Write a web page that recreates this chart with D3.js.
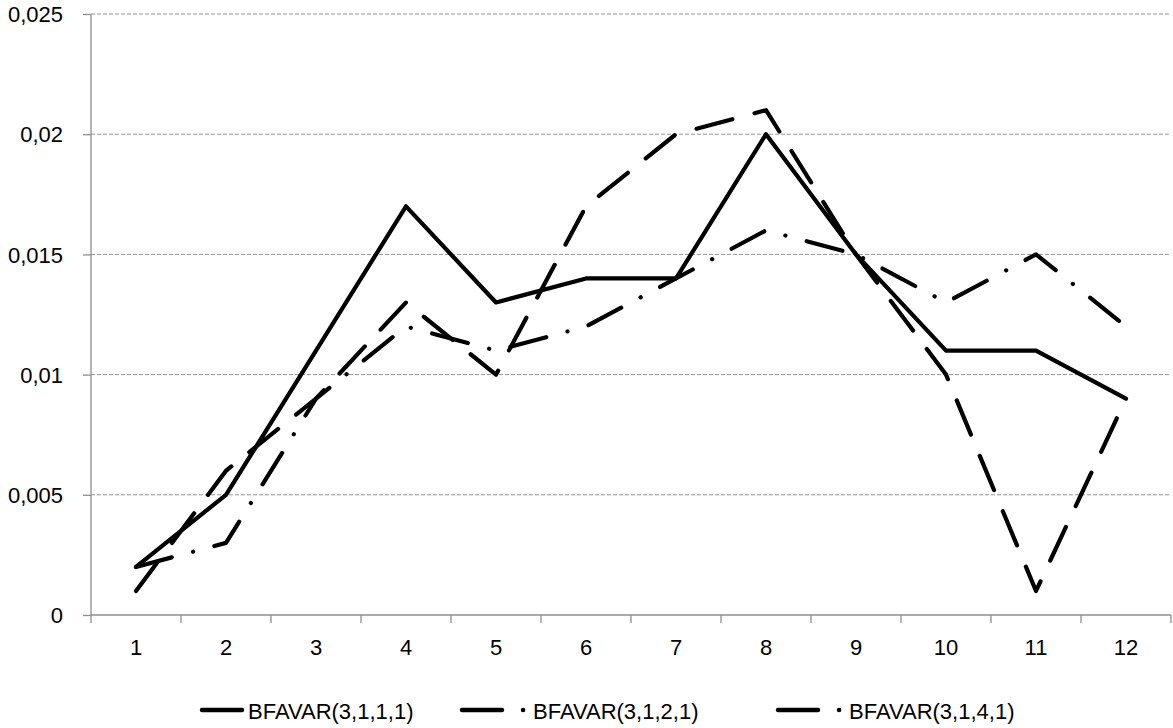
<!DOCTYPE html>
<html><head><meta charset="utf-8">
<script src="https://cdn.jsdelivr.net/npm/d3@7"></script>
<style>body{margin:0;background:#fff}svg{display:block}text{font-family:"Liberation Sans",Arial,sans-serif;fill:#000}</style>
</head><body>
<svg id="c" width="1173" height="728"></svg>
<script>
const categories = ["1","2","3","4","5","6","7","8","9","10","11","12"];
const seriesNames = ["BFAVAR(3,1,1,1)","BFAVAR(3,1,2,1)","BFAVAR(3,1,4,1)"];
const s1 = [0.002,0.005,0.011,0.017,0.013,0.014,0.014,0.020,0.015,0.011,0.011,0.009];
const s2 = [0.001,0.006,0.009,0.013,0.010,0.017,0.020,0.021,0.015,0.010,0.001,0.009];
const s3 = [0.002,0.003,0.009,0.012,0.011,0.012,0.014,0.016,0.015,0.013,0.015,0.012];
const yTicks = [0,0.005,0.01,0.015,0.02,0.025];
const yTickLabels = ["0","0,005","0,01","0,015","0,02","0,025"];

const series = [
  {name: seriesNames[0], values: s1, dash: null},
  {name: seriesNames[1], values: s2, dash: "37,23"},
  {name: seriesNames[2], values: s3, dash: "37,22,0.1,22"}
];

const svg = d3.select("#c");
const L = 91, R = 1171, T = 14, B = 615;
const x = d3.scaleBand().domain(categories).range([L, R]);
const y = d3.scaleLinear().domain([0, 0.025]).range([B, T]);
const axisColor = "#8e8e8e";

// gridlines
svg.append("g").selectAll("line").data(yTicks.slice(1)).join("line")
  .attr("x1", L).attr("x2", R)
  .attr("y1", d => y(d)).attr("y2", d => y(d))
  .attr("stroke", "#969696").attr("stroke-width", 1).attr("stroke-dasharray", "4,2");

// y axis
const yAxis = d3.axisLeft(y).tickValues(yTicks).tickSize(8)
  .tickFormat((d, i) => yTickLabels[i]).tickPadding(20);
const gy = svg.append("g").attr("transform", `translate(${L},0)`).call(yAxis);
gy.select(".domain").attr("stroke", axisColor).attr("stroke-width", 1.3).attr("d", `M0,${T}V${B}`);
gy.selectAll(".tick line").attr("stroke", axisColor).attr("stroke-width", 1.3);
gy.selectAll(".tick text").attr("font-size", 22).attr("font-family", "Liberation Sans, Arial, sans-serif").attr("dy", "0.35em").attr("fill", "#000");

// x axis
const xAxis = d3.axisBottom(x).tickSize(0).tickPadding(24);
const gx = svg.append("g").attr("transform", `translate(0,${B})`).call(xAxis);
gx.select(".domain").attr("stroke", axisColor).attr("stroke-width", 1.3).attr("d", `M${L},0H${R}`);
gx.selectAll(".tick text").attr("font-size", 22).attr("font-family", "Liberation Sans, Arial, sans-serif").attr("fill", "#000");
const bounds = categories.map(c => x(c)).concat([R]);
gx.append("g").selectAll("line").data(bounds).join("line")
  .attr("x1", d => d).attr("x2", d => d).attr("y1", 0).attr("y2", 8)
  .attr("stroke", axisColor).attr("stroke-width", 1.3);

// lines
const line = d3.line()
  .x((d, i) => x(categories[i]) + x.bandwidth() / 2)
  .y(d => y(d));
svg.append("g").selectAll("path").data(series).join("path")
  .attr("d", d => line(d.values))
  .attr("fill", "none").attr("stroke", "#000").attr("stroke-width", 4.2)
  .attr("stroke-linecap", "round").attr("stroke-linejoin", "round")
  .attr("stroke-dasharray", d => d.dash);

// legend
const legX = [200, 460, 776];
const lg = svg.append("g").selectAll("g").data(series).join("g")
  .attr("transform", (d, i) => `translate(${legX[i]},710)`);
lg.append("line").attr("x1", 2).attr("x2", d => d.dash ? 64 : 42).attr("y1", 0).attr("y2", 0)
  .attr("stroke", "#000").attr("stroke-width", 4.5).attr("stroke-linecap", "round")
  .attr("stroke-dasharray", d => d.dash ? "40,21,0.1,100" : null);
lg.append("text").attr("x", d => d.dash ? 73 : 48).attr("y", 9)
  .attr("font-size", 22).text(d => d.name);
</script>
</body></html>
